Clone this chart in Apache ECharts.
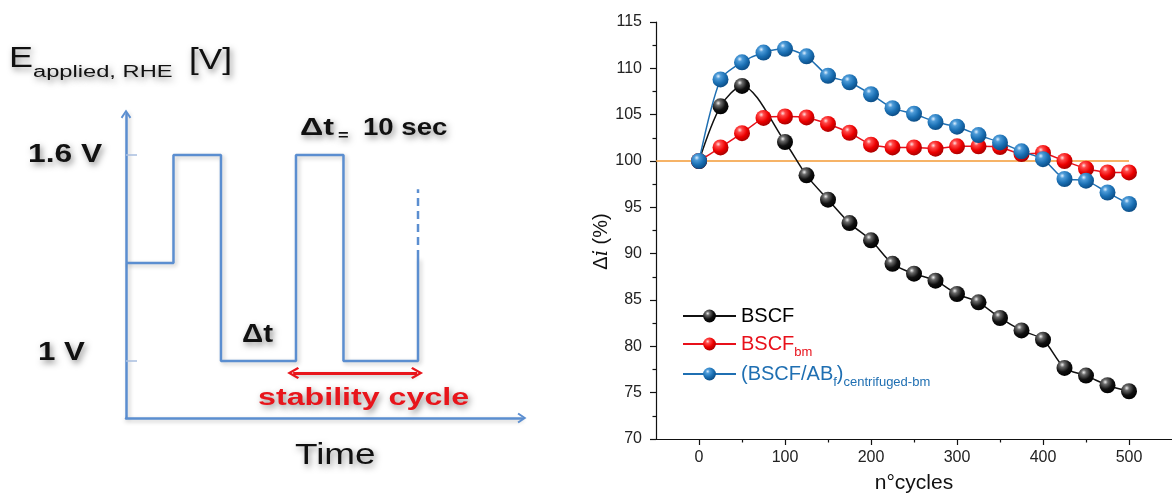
<!DOCTYPE html>
<html><head><meta charset="utf-8">
<script src="https://cdn.jsdelivr.net/npm/echarts@6/dist/echarts.min.js"></script>
<style>html,body{margin:0;padding:0;background:#fff}#c{width:1172px;height:499px}</style>
</head><body><div id="c"></div><script>
// ---------- data: right panel ----------
const cycles = [0,25,50,75,100,125,150,175,200,225,250,275,300,325,350,375,400,425,450,475,500];
const bscfCycles = [0,25,50,100,125,150,175,200,225,250,275,300,325,350,375,400,425,450,475,500];
const bscf = [100,105.9,108.1,102.05,98.45,95.83,93.3,91.44,88.9,87.84,87.09,85.65,84.75,83.06,81.72,80.72,77.67,76.84,75.8,75.15];
const bscfBm = [100,101.47,103.0,104.65,104.8,104.7,104.0,103.05,101.76,101.47,101.47,101.33,101.58,101.58,101.5,100.75,100.86,100.0,99.17,98.77,98.77];
const bscfAb = [100,108.8,110.65,111.7,112.1,111.3,109.2,108.5,107.2,105.7,105.1,104.2,103.7,102.8,102.0,101.04,100.2,98.06,97.88,96.6,95.36];
const refCycles = [-50,500];
const refLevel = [100,100];
const xMajorTicks = [0,100,200,300,400,500];
const xMinorTicks = [50,150,250,350,450];
// ---------- data: left schematic (time in s, potential in V) ----------
const waveT = [0,10,10,20,20,35.8,35.8,45.8,45.8,61.5,61.5];
const waveV = [1.285,1.285,1.6,1.6,1.0,1.0,1.6,1.6,1.0,1.0,1.30];
const waveDashT = [61.5,61.5];
const waveDashV = [1.30,1.50];
const levelTicks = [1.0,1.6];
const cycleSpanT = [35.2,61.3];
const cycleSpanV = 0.965;

const FONT = 'Liberation Sans, Arial, Helvetica, sans-serif';
const zip = (a,b) => a.map((v,i)=>[v,b[i]]);
function ball(c0,c1,c2,c3){
  return {type:'radial',x:0.36,y:0.3,r:0.72,colorStops:[
    {offset:0,color:c0},{offset:0.22,color:c1},{offset:0.62,color:c2},{offset:1,color:c3}]};
}
const blackBall = ball('#f0f0f0','#6a6a6a','#111','#000');
const redBall = ball('#ffe0e0','#ff4848','#ec0000','#a80000');
const blueBall = ball('#e0f0ff','#4d9bd8','#1a6fb3','#0b4c85');
const BLUE_AX = '#5b8ed0';
const chevron = 'path://M0,9 L6,0 L12,9 L10.2,10.3 L6,3.8 L1.8,10.3 Z';

function txt(text,x,y,size,weight,fill,sx){
  return {type:'text',x:x,y:y,scaleX:sx,z:20,style:{text:text,fontSize:size,fontWeight:weight,fontFamily:FONT,fill:fill,
    align:'left',verticalAlign:'middle',textShadowColor:'rgba(0,0,0,0.45)',textShadowBlur:6,textShadowOffsetX:2,textShadowOffsetY:3}};
}

const chart = echarts.init(document.getElementById('c'), null, {renderer:'canvas'});
const legendBase = {orient:'horizontal',left:682,itemWidth:53,itemHeight:16,padding:0,selectedMode:false};
chart.setOption({
  backgroundColor:'#ffffff',
  animation:false,
  textStyle:{fontFamily:FONT},
  grid:[
    {left:656,right:0,top:22,bottom:59,containLabel:false},
    {left:126,right:650,top:114,bottom:81,containLabel:false}
  ],
  xAxis:[
    {type:'value',gridIndex:0,min:-50,max:550,interval:50,
     name:'n°cycles',nameLocation:'middle',nameGap:34,nameTextStyle:{fontSize:21,color:'#111',fontFamily:FONT},
     axisLine:{onZero:false,lineStyle:{color:'#111',width:1.2}},
     axisTick:{customValues:xMajorTicks,length:6,lineStyle:{color:'#111',width:1.2}},
     axisLabel:{customValues:xMajorTicks,fontSize:16,color:'#222',margin:11},
     splitLine:{show:false}},
    {type:'value',gridIndex:0,min:-50,max:550,interval:50,position:'bottom',
     axisLine:{show:false,onZero:false},
     axisTick:{customValues:xMinorTicks,length:3.5,lineStyle:{color:'#111',width:1.2}},
     axisLabel:{show:false},splitLine:{show:false}},
    {type:'value',gridIndex:1,min:0,max:83.4,
     axisLine:{onZero:false,symbol:['none',chevron],symbolSize:[13,9],
       lineStyle:{color:BLUE_AX,width:2.5,shadowColor:'rgba(0,0,0,0.22)',shadowBlur:4,shadowOffsetY:2}},
     axisTick:{show:false},axisLabel:{show:false},splitLine:{show:false}}
  ],
  yAxis:[
    {type:'value',gridIndex:0,min:70,max:115,interval:5,
     name:'{a|Δ}{i|i}{a| (%)}',nameLocation:'middle',nameGap:33,nameRotate:90,
     nameTextStyle:{padding:[0,22,0,0],rich:{a:{fontSize:20,color:'#111',fontFamily:FONT},i:{fontSize:20,color:'#111',fontStyle:'italic',fontFamily:'DejaVu Serif, serif'}}},
     axisLine:{onZero:false,lineStyle:{color:'#111',width:1.2}},
     axisTick:{length:6,lineStyle:{color:'#111',width:1.2}},
     minorTick:{show:true,splitNumber:2,length:3.5,lineStyle:{color:'#111',width:1.2}},
     axisLabel:{fontSize:16,color:'#222',margin:14},
     splitLine:{show:false}},
    {type:'value',gridIndex:1,min:0.834,max:1.719,
     axisLine:{onZero:false,symbol:['none',chevron],symbolSize:[13,9],
       lineStyle:{color:BLUE_AX,width:2.5,shadowColor:'rgba(0,0,0,0.22)',shadowBlur:4,shadowOffsetX:2}},
     axisTick:{show:true,inside:true,customValues:levelTicks,length:11,lineStyle:{color:'#a9bfe0',width:1.5}},
     axisLabel:{show:false},splitLine:{show:false}}
  ],
  legend:[
    Object.assign({},legendBase,{top:306,data:['BSCF'],textStyle:{fontSize:20,color:'#000',lineHeight:20}}),
    Object.assign({},legendBase,{top:329.5,data:['BSCFbm'],
      formatter:()=> '{m|BSCF}{s|bm}',
      textStyle:{color:'#e8101a',rich:{m:{fontSize:20,lineHeight:20,color:'#e8101a'},s:{fontSize:13,lineHeight:13,padding:[16,0,0,0],color:'#e8101a'}}}}),
    Object.assign({},legendBase,{top:359.5,data:['BSCFAB'],
      formatter:()=> '{m|(BSCF/AB}{s|f}{m|)}{s|centrifuged-bm}',
      textStyle:{color:'#1f6fb2',rich:{m:{fontSize:20,lineHeight:20,color:'#1f6fb2'},s:{fontSize:13,lineHeight:13,padding:[16,0,0,0],color:'#1f6fb2'}}}})
  ],
  series:[
    {name:'ref',type:'line',xAxisIndex:0,yAxisIndex:0,data:zip(refCycles,refLevel),symbol:'none',silent:true,
     lineStyle:{color:'#f39a35',width:1.6},z:1},
    {name:'BSCF',type:'line',xAxisIndex:0,yAxisIndex:0,data:zip(bscfCycles,bscf),smooth:0.3,
     symbol:'circle',symbolSize:16,itemStyle:{color:blackBall},lineStyle:{color:'#111',width:1.5},z:3},
    {name:'BSCFbm',type:'line',xAxisIndex:0,yAxisIndex:0,data:zip(cycles,bscfBm),smooth:0.15,
     symbol:'circle',symbolSize:16,itemStyle:{color:redBall},lineStyle:{color:'#e8101a',width:1.5},z:4},
    {name:'BSCFAB',type:'line',xAxisIndex:0,yAxisIndex:0,data:zip(cycles,bscfAb),smooth:0.25,
     symbol:'circle',symbolSize:16,itemStyle:{color:blueBall},lineStyle:{color:'#1f6fb2',width:1.5},z:5},
    {name:'wave',type:'line',xAxisIndex:2,yAxisIndex:1,data:zip(waveT,waveV),symbol:'none',silent:true,
     lineStyle:{color:BLUE_AX,width:2.5,shadowColor:'rgba(0,0,0,0.22)',shadowBlur:4,shadowOffsetX:2,shadowOffsetY:2}},
    {name:'waveDash',type:'line',xAxisIndex:2,yAxisIndex:1,data:zip(waveDashT,waveDashV),symbol:'none',silent:true,
     lineStyle:{color:BLUE_AX,width:2.5,type:[8,5]},
     markLine:{silent:true,symbol:[chevron,chevron],symbolSize:[12,12],label:{show:false},
       lineStyle:{color:'#e8151b',width:3,type:'solid',shadowColor:'rgba(0,0,0,0.25)',shadowBlur:4,shadowOffsetY:2},
       data:[[{coord:[cycleSpanT[0],cycleSpanV]},{coord:[cycleSpanT[1],cycleSpanV]}]]}}
  ],
  graphic:[
    txt('E',9,59,30,'normal','#111',1.2),
    txt('applied, RHE',33,72.5,16,'normal','#111',1.48),
    txt('[V]',189,61,30,'normal','#111',1.17),
    txt('1.6 V',28,155,25,'bold','#111',1.27),
    txt('1 V',38,353,25,'bold','#111',1.25),
    txt('Δt',300,128,24,'bold','#111',1.35),
    txt('=',338,136,14,'bold','#111',1.3),
    txt('10 sec',363,128,24,'bold','#111',1.15),
    txt('Δt',242,335,25,'bold','#111',1.18),
    txt('stability cycle',258,399,23,'bold','#e8151b',1.4),
    txt('Time',295,456,30,'normal','#111',1.23)
  ]
});
</script></body></html>
